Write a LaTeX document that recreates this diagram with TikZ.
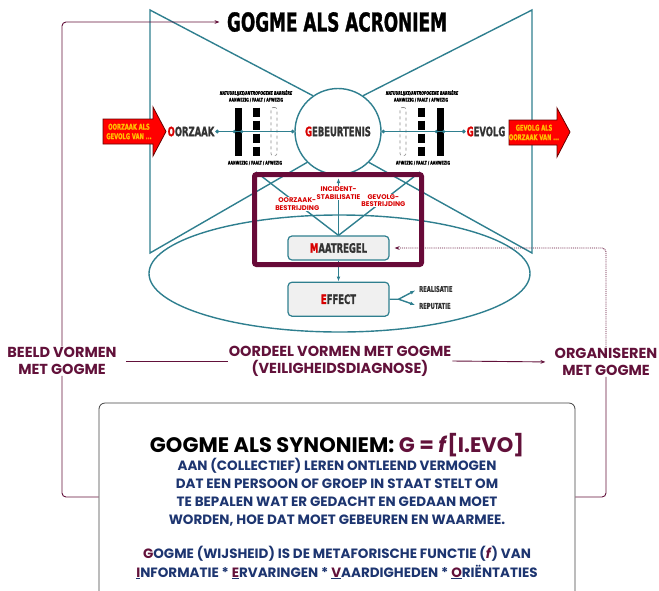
\documentclass[tikz,border=0pt]{standalone}
\usepackage{fontspec}
\newfontfamily\impact[FakeStretch=0.65, FakeBold=1.2]{DejaVu Sans}
\newfontfamily\berlin{Poppins}
\usepackage{tikz}
\usetikzlibrary{positioning}
\usetikzlibrary{arrows.meta, shapes.geometric, positioning}
\definecolor{bowteal}{HTML}{2F7F8F}
\definecolor{gmaroon}{HTML}{62113A}
\definecolor{boxmaroon}{HTML}{680A38}
\definecolor{gnavy}{HTML}{1D3570}
\definecolor{ired}{HTML}{D80000}
\definecolor{ayellow}{HTML}{FFC000}
\definecolor{mgray}{HTML}{F0F0F0}

\begin{document}
\begin{tikzpicture}[x=1pt, y=-1pt,
    tealln/.style={draw=bowteal, line width=1.4pt},
    mline/.style={draw=gmaroon, line width=0.9pt},
    imp/.style={font=\impact\bfseries\fontsize{13}{15}\selectfont, text=black!80, inner sep=1pt},
    barlbl/.style={font=\impact\bfseries\fontsize{5}{6}\selectfont, inner sep=0pt},
    bars/.style={minimum width=7pt, minimum height=48pt, inner sep=0pt},
    bardash/.style={bars, fill=white, path picture={\draw[line width=7pt, dash pattern=on 9pt off 4pt] (path picture bounding box.north) -- (path picture bounding box.south);}},
    barnone/.style={bars, draw=black!45, dashed, rounded corners=2pt, line width=0.6pt, minimum width=6pt},
    stepbox/.style={draw=bowteal, line width=1.2pt, fill=mgray, rounded corners=4pt, minimum width=101pt},
    berl/.style={font=\berlin\bfseries\fontsize{14.5}{17}\selectfont, text=gmaroon, align=center, inner sep=1pt},
    fanlbl/.style={font=\berlin\bfseries\fontsize{6.8}{7.8}\selectfont, text=ired, align=center, fill=white, inner sep=0.5pt},
    redarr/.style={draw=black!60!red, line width=0.8pt, fill=red},
    arrtxt/.style={font=\impact\bfseries\fontsize{8}{9.5}\selectfont, text=ayellow, align=center, inner sep=0pt},
  ]
	\useasboundingbox (0,0) rectangle (659,590);

	% Bow tie
	\begin{scope}
		\node (ell) at (339.5,273.5) [ellipse, tealln, minimum width=381pt, minimum height=117pt] {};
		\node (gebeur) at (338,131.5) [circle, tealln, fill=white, minimum size=86pt, imp] {{\color{ired}G}EBEURTENIS};
		\coordinate (bt_tl) at (150,10);
		\coordinate (bt_bl) at (150,253);
		\coordinate (bt_tr) at (532,10);
		\coordinate (bt_br) at (532,253);
		\draw[tealln] (gebeur.125) -- (bt_tl) -- (bt_bl) -- (gebeur.225);
		\draw[tealln] (gebeur.55) -- (bt_tr) -- (bt_br) -- (gebeur.315);
		\node (acron) at (337,22) [font=\impact\bfseries\fontsize{26}{30}\selectfont] {GOGME ALS ACRONIEM};
	\end{scope}

	% Barriers
	\begin{scope}
		\node (oorz) at (191,131.5) [imp] {{\color{ired}O}ORZAAK};
		\node (gevolg) at (486,131.5) [imp] {{\color{ired}G}EVOLG};

		\node (b_l1) at (238,131.5) [bars, fill=black] {};
		\node (b_l2) at (256.5,131.5) [bardash] {};
		\node (b_l3) at (274,131.5) [barnone] {};
		\node (b_r3) at (403,131.5) [barnone] {};
		\node (b_r2) at (421.5,131.5) [bardash] {};
		\node (b_r1) at (440,131.5) [bars, fill=black] {};

		\node (lbl_l1) at (256,93) [barlbl] {\itshape NATUURLIJKE/ANTROPOGENE BARRIÈRE};
		\node (lbl_l2) at (256,100) [barlbl] {AANWEZIG / FAALT / AFWEZIG};
		\node (lbl_l3) at (255,163) [barlbl] {AANWEZIG / FAALT / AFWEZIG};
		\node (lbl_r1) at (422,93) [barlbl] {\itshape NATUURLIJKE/ANTROPOGENE BARRIÈRE};
		\node (lbl_r2) at (421,100) [barlbl] {AANWEZIG / FAALT / AFWEZIG};
		\node (lbl_r3) at (423,163) [barlbl] {AFWEZIG / FAALT / AANWEZIG};

		\draw[tealln, {Circle[length=3.5pt]}-{Circle[length=3.5pt]}] (oorz.east) -- (gebeur.west);
		\draw[tealln, {Circle[length=3.5pt]}-{Circle[length=3.5pt]}] (gebeur.east) -- (gevolg.west);
		\foreach \b in {b_l1, b_r1} {
			\fill[bowteal] (\b.west |- gebeur.center) circle (1.8);
			\fill[bowteal] (\b.east |- gebeur.center) circle (1.8);
		}
	\end{scope}

	% Red arrows
	\begin{scope}
		\draw[redarr] (103,119) -- (153,119) -- (153,107) -- (166,131.5) -- (153,156) -- (153,144) -- (103,144) -- cycle;
		\node (arr_l) at (129,131.5) [arrtxt] {OORZAAK ALS\\GEVOLG VAN ...};
		\draw[redarr] (509,120) -- (557,120) -- (557,108) -- (570,132) -- (557,157) -- (557,145) -- (509,145) -- cycle;
		\node (arr_r) at (534,132.5) [arrtxt] {GEVOLG ALS\\OORZAAK VAN ...};
	\end{scope}

	% Maatregel and effect
	\begin{scope}
		\node (maatr) at (338.5,248) [stepbox, minimum height=24pt, imp] {{\color{ired}M}AATREGEL};
		\node (effect) [stepbox, minimum height=34pt, imp, below = 21pt of maatr] {{\color{ired}E}FFECT};
		\node (real) at (418,289) [imp, anchor=west, font=\impact\bfseries\fontsize{8}{9}\selectfont] {REALISATIE};
		\node (reput) at (418,306) [imp, anchor=west, font=\impact\bfseries\fontsize{8}{9}\selectfont] {REPUTATIE};
		\coordinate (fork) at ([xshift=9pt]effect.east);
		\coordinate (fan_l) at (256,172);
		\coordinate (fan_m) at (338.5,178);
		\coordinate (fan_r) at (420,172);

		\draw[tealln, -{Latex[length=5pt]}] (maatr.south) -- (effect.north);
		\draw[tealln, -{Latex[length=5pt]}, shorten >=3pt] (effect.east) -- (fork) -- (real.west);
		\draw[tealln, -{Latex[length=5pt]}, shorten >=3pt] (fork) -- (reput.west);
		\draw[tealln] (maatr.north) -- node[fanlbl, pos=0.5] {OORZAAK-\\BESTRIJDING} (fan_l);
		\draw[tealln, -{Latex[length=5pt]}] (maatr.north) -- node[fanlbl, pos=0.74] {INCIDENT-\\STABILISATIE} (fan_m);
		\draw[tealln] (maatr.north) -- node[fanlbl, pos=0.55] {GEVOLG-\\BESTRIJDING} (fan_r);

		\node (mbox) at (338,219.5) [draw=boxmaroon, line width=5pt, rounded corners=2pt, minimum width=167pt, minimum height=90pt] {};
	\end{scope}

	% Gogme steps
	\begin{scope}
		\node (beeld) at (62,361) [berl] {BEELD VORMEN\\MET GOGME};
		\node (oordeel) at (340,361) [berl] {OORDEEL VORMEN MET GOGME\\(VEILIGHEIDSDIAGNOSE)};
		\node (organ) at (606,362) [berl] {ORGANISEREN\\MET GOGME};

		\draw[mline, shorten <=8pt] (beeld.east) -- (oordeel.west);
		\draw[mline, -{Stealth[length=5pt]}, shorten >=8pt] (oordeel.east) -- (organ.west);
		\draw[mline, rounded corners=4pt, -{Stealth[length=5pt]}, shorten >=4pt] (beeld.north) |- (acron.west);
		\draw[mline, densely dotted, rounded corners=4pt, -{Stealth[length=5pt]}, shorten >=5pt] (organ.north) |- (maatr.east);
	\end{scope}

	% Synoniem
	\begin{scope}
		\node (syn) at (337,512) [draw=black!75, line width=0.8pt, rounded corners=6pt, minimum width=476pt, minimum height=218pt] {};
		\coordinate (syn_l) at (syn.north west |- 0,497);
		\coordinate (syn_r) at (syn.north east |- 0,497);
		\draw[mline, rounded corners=4pt] (beeld.south) |- (syn_l);
		\draw[mline, rounded corners=4pt] (organ.south) |- (syn_r);

		\node (syn_title) at (337,445) [berl, text=black, font=\berlin\bfseries\fontsize{21}{24}\selectfont] {GOGME ALS SYNONIEM: {\color{gmaroon}G = \textit{f}[I.EVO]}};
		\node (syn_def) at (337,492) [berl, text=gnavy, font=\berlin\bfseries\fontsize{13.5}{18}\selectfont] {AAN (COLLECTIEF) LEREN ONTLEEND VERMOGEN\\DAT EEN PERSOON OF GROEP IN STAAT STELT OM\\TE BEPALEN WAT ER GEDACHT EN GEDAAN MOET\\WORDEN, HOE DAT MOET GEBEUREN EN WAARMEE.};
		\node (syn_func) at (337,562.5) [berl, text=gnavy, font=\berlin\bfseries\fontsize{13.5}{19}\selectfont] {{\color{gmaroon}G}OGME (WIJSHEID) IS DE METAFORISCHE FUNCTIE ({\color{gmaroon}\textit{f}}) VAN\\\underline{\color{gmaroon}I}NFORMATIE * \underline{\color{gmaroon}E}RVARINGEN * \underline{\color{gmaroon}V}AARDIGHEDEN * \underline{\color{gmaroon}O}RIËNTATIES};
	\end{scope}

\end{tikzpicture}
\end{document}
